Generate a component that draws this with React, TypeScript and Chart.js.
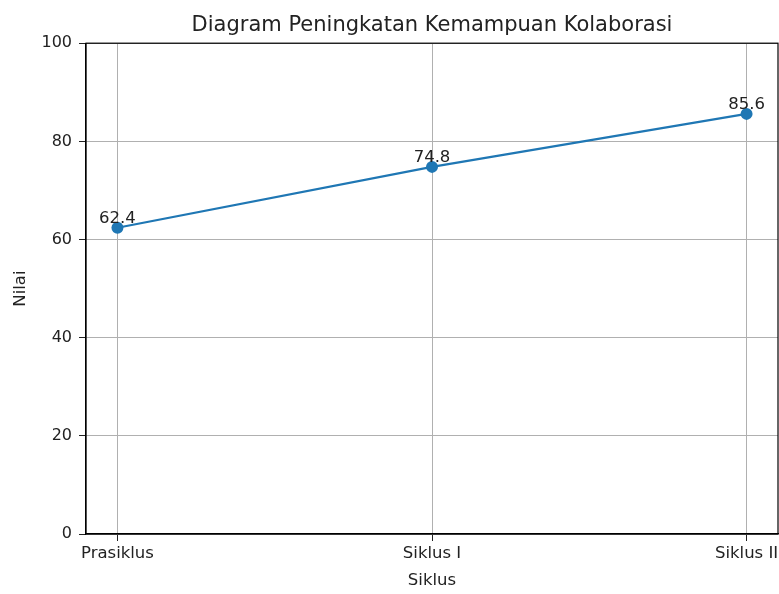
import React, { useEffect, useRef } from 'react';
import { Chart, registerables } from 'chart.js';

Chart.register(...registerables);

const categories = ['Prasiklus', 'Siklus I', 'Siklus II'];
const values = [62.4, 74.8, 85.6];
const yTicks = [0, 20, 40, 60, 80, 100];
const chartTitle = 'Diagram Peningkatan Kemampuan Kolaborasi';
const xTitle = 'Siklus';
const yTitle = 'Nilai';

const FONT = "'DejaVu Sans', sans-serif";
const BLUE = '#1f77b4';

const framePlugin = {
  id: 'frame',
  afterDraw(chart: any) {
    const { ctx, chartArea } = chart;
    ctx.save();
    ctx.strokeStyle = '#000';
    ctx.lineWidth = 1.2;
    ctx.strokeRect(chartArea.left, chartArea.top, chartArea.right - chartArea.left, chartArea.bottom - chartArea.top);
    ctx.restore();
  },
};

const labelPlugin = {
  id: 'valueLabels',
  afterDatasetsDraw(chart: any) {
    const { ctx } = chart;
    const meta = chart.getDatasetMeta(0);
    ctx.save();
    ctx.font = `16.5px ${FONT}`;
    ctx.fillStyle = '#222';
    ctx.textAlign = 'center';
    ctx.textBaseline = 'alphabetic';
    meta.data.forEach((pt: any, i: number) => {
      ctx.fillText(values[i].toFixed(1), pt.x, pt.y - 5);
    });
    ctx.restore();
  },
};

export default function App() {
  const ref = useRef<HTMLCanvasElement>(null);
  useEffect(() => {
    if (!ref.current) return;
    const chart = new Chart(ref.current, {
      type: 'line',
      data: {
        datasets: [
          {
            data: values.map((v, i) => ({ x: i, y: v })),
            borderColor: BLUE,
            backgroundColor: BLUE,
            borderWidth: 2.2,
            pointRadius: 6,
            pointHoverRadius: 6,
            pointBorderWidth: 0,
            tension: 0,
          },
        ],
      },
      options: {
        animation: false,
        responsive: false,
        devicePixelRatio: 1,
        layout: { autoPadding: false, padding: { left: 0, right: 1, top: 0, bottom: 0 } },
        plugins: {
          legend: { display: false },
          tooltip: { enabled: false },
          title: {
            display: true,
            text: chartTitle,
            fullSize: false,
            color: '#222',
            font: { family: FONT, size: 21, weight: 'normal' },
            padding: { top: 13, bottom: 5 },
          },
        },
        scales: {
          x: {
            type: 'linear',
            min: -0.1,
            max: 2.1,
            afterBuildTicks: (s: any) => {
              s.ticks = categories.map((_, i) => ({ value: i }));
            },
            afterFit: (s: any) => {
              s.height = 60;
              s.paddingLeft = 0;
              s.paddingRight = 0;
            },
            ticks: {
              callback: (v: any) => categories[v] ?? '',
              color: '#222',
              font: { family: FONT, size: 16.5 },
              padding: 3,
              maxRotation: 0,
              autoSkip: false,
            },
            grid: { color: '#b0b0b0', lineWidth: 1, tickColor: '#222', tickLength: 7, drawTicks: true },
            border: { color: '#000', width: 1.2 },
            title: {
              display: true,
              text: xTitle,
              color: '#222',
              font: { family: FONT, size: 16.5 },
              padding: { top: 0, bottom: 3 },
            },
          },
          y: {
            min: 0,
            max: 100,
            afterBuildTicks: (s: any) => {
              s.ticks = yTicks.map((v) => ({ value: v }));
            },
            afterFit: (s: any) => {
              s.width = 86;
              s.paddingTop = 0;
              s.paddingBottom = 0;
            },
            ticks: {
              color: '#222',
              font: { family: FONT, size: 16 },
              padding: 7,
            },
            grid: { color: '#b0b0b0', lineWidth: 1, tickColor: '#222', tickLength: 7, drawTicks: true },
            border: { color: '#000', width: 1.2 },
            title: {
              display: true,
              text: yTitle,
              color: '#222',
              font: { family: FONT, size: 16.5 },
              padding: { top: 11, bottom: 0 },
            },
          },
        },
      },
      plugins: [framePlugin, labelPlugin],
    } as any);
    return () => chart.destroy();
  }, []);
  return (
    <div style={{ position: 'fixed', left: 0, top: 0, width: 779, height: 594, background: '#fff' }}>
      <canvas ref={ref} width={779} height={594} style={{ width: 779, height: 594, display: 'block' }} />
    </div>
  );
}
